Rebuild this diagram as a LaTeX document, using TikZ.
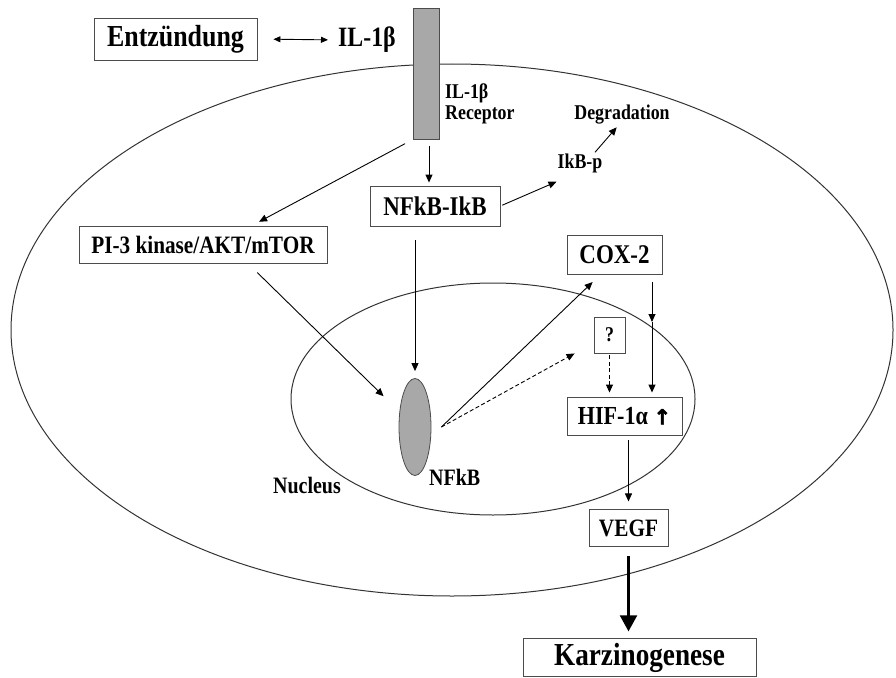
\documentclass[tikz,border=0pt]{standalone}
\usepackage{fontspec}
\setmainfont[FakeStretch=0.85]{Liberation Serif}
\newfontfamily\symbolfont[FakeBold=2.5]{DejaVu Sans}
\usetikzlibrary{arrows.meta, positioning, shapes.geometric}
\definecolor{membrane}{gray}{0.66}

\begin{document}
\begin{tikzpicture}[x=1pt, y=-1pt,
		block/.style={rectangle, draw=black!70, line width=0.9pt, inner sep=0pt, text centered},
		plain/.style={inner sep=1pt, font=\bfseries\fontsize{21}{21}\selectfont},
		receptor/.style={rectangle, draw=black!70, fill=membrane, line width=0.8pt, minimum width=26pt, minimum height=131pt},
		arrow/.style={-{Triangle[length=8pt, width=7pt]}, line width=0.9pt},
		bigarrow/.style={-{Triangle[length=16pt, width=17pt]}, line width=2.2pt},
		wall/.style={draw=black!80, line width=1pt}
		]
		\useasboundingbox (0,0) rectangle (896,677);
		
		% Cell and nucleus
		\draw[wall] (452,330) ellipse [x radius=441, y radius=266];
		\draw[wall] (493,399) ellipse [x radius=202, y radius=116];
		
		% Outside the cell
		\node[block, minimum width=163pt, minimum height=42pt, font=\bfseries\fontsize{30.5}{30.5}\selectfont] (entz) at (175.5,39) {Entzündung};
		\node[inner sep=0pt, anchor=west, font=\bfseries\fontsize{28}{28}\selectfont] (il) at (338,40) {IL-1β};
		\node[receptor] (rec) at (426,73.5) {};
		\node[plain, anchor=north west, align=left] (reclab) at (444,83) {IL-1β\\Receptor};
		
		% Cytoplasm
		\node[plain] (degr) at (622,115) {Degradation};
		\node[plain] (ikbp) at (580,163) {IkB-p};
		\node[block, minimum width=130pt, minimum height=40pt, font=\bfseries\fontsize{27}{27}\selectfont] (nfkbikb) at (435,206) {NFkB-IkB};
		\node[block, minimum width=248pt, minimum height=37pt, font=\bfseries\fontsize{25}{25}\selectfont] (pi3) at (203,244.5) {PI-3 kinase/AKT/mTOR};
		\node[block, minimum width=95pt, minimum height=39pt, font=\bfseries\fontsize{27}{27}\selectfont] (cox) at (614.5,254.5) {COX-2};
		
		% Nucleus
		\node[block, minimum width=31pt, minimum height=36pt, font=\bfseries\fontsize{21}{21}\selectfont] (q) at (609.5,335) {?};
		\node[block, minimum width=115pt, minimum height=38pt, font=\bfseries\fontsize{26}{26}\selectfont] (hif) at (624.5,416) {HIF-1α {\symbolfont\fontsize{21}{21}\selectfont ↑}};
		\node[ellipse, draw=black!70, fill=membrane, line width=0.8pt, minimum width=32pt, minimum height=97pt, inner sep=0pt] (nfkb) at (415,427) {};
		\node[plain, anchor=west, font=\bfseries\fontsize{23.5}{23.5}\selectfont] (nfkblab) at (428,477) {NFkB};
		\node[plain, font=\bfseries\fontsize{23.5}{23.5}\selectfont] (nuclab) at (307,485) {Nucleus};
		
		% Towards the outcome
		\node[block, minimum width=79pt, minimum height=37pt, font=\bfseries\fontsize{25}{25}\selectfont, below=74pt of hif, xshift=4pt] (vegf) {VEGF};
		\node[block, minimum width=233pt, minimum height=38pt, font=\bfseries\fontsize{32}{32}\selectfont, below=91pt of vegf, xshift=11pt] (karz) {Karzinogenese};
		
		\coordinate (nfkbout) at ([xshift=10pt]nfkb.east);
		\coordinate (coxmid) at (652,322);
		
		% Signalling arrows
		\draw[line width=0.9pt, {Triangle[length=7pt, width=6pt]}-{Triangle[length=7pt, width=6pt]}, shorten <=16pt, shorten >=10pt] (entz.east) -- (il.west);
		\draw[arrow, shorten <=7pt, shorten >=3pt] ([xshift=3pt]rec.south) -- ([xshift=3pt]rec.south |- nfkbikb.north);
		\draw[arrow, shorten <=9pt, shorten >=8pt] ([xshift=-13pt]rec.south) -- ([xshift=49pt]pi3.north);
		\draw[arrow, shorten <=2pt] (nfkbikb.east) -- ([yshift=-8pt]ikbp.south west);
		\draw[arrow, shorten >=2pt] ([xshift=15pt]ikbp.north) -- ([xshift=-4pt]degr.south);
		\draw[arrow, shorten <=14pt, shorten >=7pt] (nfkbikb.south -| nfkb.north) -- (nfkb.north);
		\draw[arrow, shorten <=13pt, shorten >=44pt] ([xshift=45pt]pi3.south) -- (nfkb.center);
		\draw[arrow, shorten >=11pt] (nfkbout) -- ([xshift=34pt]cox.south west);
		\draw[arrow, dashed, dash pattern=on 4pt off 2.5pt] (nfkbout) -- ([xshift=-19pt]q.south west);
		\draw[arrow, dash pattern=on 4pt off 2.5pt, shorten <=2pt, shorten >=4pt] (q.south) -- (q.south |- hif.north);
		\draw[arrow, shorten <=8pt] (coxmid |- cox.south) -- (coxmid);
		\draw[arrow, shorten >=4pt] (coxmid) -- (coxmid |- hif.north);
		\draw[arrow, shorten <=5pt, shorten >=8pt] (vegf.north |- hif.south) -- (vegf.north);
		\draw[bigarrow, shorten <=9pt, shorten >=7pt] (vegf.south) -- (vegf.south |- karz.north);
		
\end{tikzpicture}
\end{document}
